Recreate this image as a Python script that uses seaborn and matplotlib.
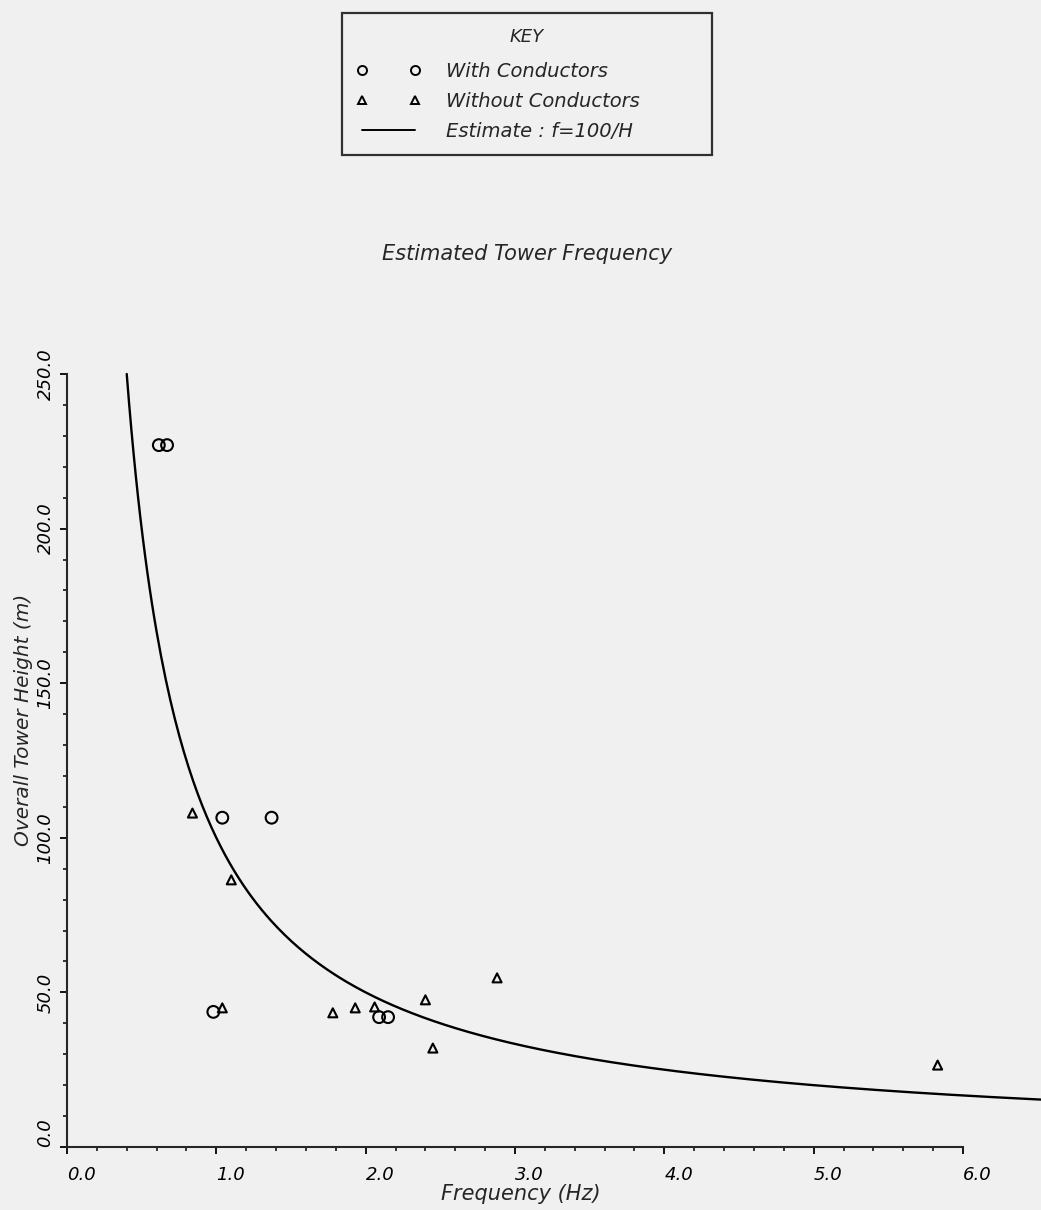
import numpy as np
import pandas as pd
import matplotlib
matplotlib.use("Agg")
import matplotlib.pyplot as plt
import seaborn as sns
from matplotlib.lines import Line2D
from matplotlib.ticker import FixedLocator

# ---- data ----
with_freq = [0.615, 0.67, 1.04, 1.37, 0.98, 2.09, 2.15]
with_height = [227, 227, 106.5, 106.5, 43.7, 42, 42]
without_freq = [0.84, 1.10, 1.04, 1.78, 1.93, 2.06, 2.40, 2.45, 2.88, 5.83]
without_height = [108, 86.4, 45, 43.4, 45, 45.3, 47.6, 32, 54.7, 26.5]
estimate_freq = np.linspace(0.40, 6.52, 400)
estimate_height = 100.0 / estimate_freq          # Estimate : f = 100/H

x_ticks = [0, 1, 2, 3, 4, 5, 6]
x_tick_labels = ["0.0", "1.0", "2.0", "3.0", "4.0", "5.0", "6.0"]
y_ticks = [0, 50, 100, 150, 200, 250]
y_tick_labels = ["0.0", "50.0", "100.0", "150.0", "200.0", "250.0"]

sns.set_style("ticks")
plt.rcParams["font.family"] = ["DejaVu Sans"]

W, H = 1041, 1210
fig = plt.figure(figsize=(W / 100, H / 100), dpi=100)
paper = "#f0f0f0"
fig.patch.set_facecolor(paper)

x0, x6, y0, y250 = 67, 963, 1147, 374
ax = fig.add_axes([x0 / W, (H - y0) / H, (W - x0) / W, (y0 - y250) / H])
ax.set_facecolor("none")
ax.set_xlim(0, 6 * (W - x0) / (x6 - x0))
ax.set_ylim(0, 250)

df_with = pd.DataFrame({"f": with_freq, "h": with_height})
df_without = pd.DataFrame({"f": without_freq, "h": without_height})
df_est = pd.DataFrame({"f": estimate_freq, "h": estimate_height})

sns.lineplot(data=df_est, x="f", y="h", ax=ax, color="black", lw=1.7,
             sort=False, estimator=None, clip_on=False)
sns.scatterplot(data=df_with, x="f", y="h", ax=ax, marker="o", s=72,
                facecolor="none", edgecolor="black", linewidth=1.5, clip_on=False)
sns.scatterplot(data=df_without, x="f", y="h", ax=ax, marker="^", s=42,
                facecolor="none", edgecolor="black", linewidth=1.5, clip_on=False)

sns.despine(ax=ax)
ax.spines["bottom"].set_bounds(0, 6)
ax.spines["left"].set_bounds(0, 250)
for s in ("bottom", "left"):
    ax.spines[s].set_linewidth(1.5)

ax.xaxis.set_major_locator(FixedLocator(x_ticks))
ax.set_xticklabels(x_tick_labels, ha="left", fontstyle="italic", fontsize=13)
ax.xaxis.set_minor_locator(FixedLocator(np.arange(0, 6.01, 0.2)))
ax.yaxis.set_major_locator(FixedLocator(y_ticks))
ax.set_yticklabels(y_tick_labels, rotation=90, va="center", fontstyle="italic", fontsize=13)
ax.get_yticklabels()[0].set_va("bottom")
ax.yaxis.set_minor_locator(FixedLocator(np.arange(0, 250.1, 10)))
ax.tick_params(which="major", direction="out", length=5, width=1.3, colors="black")
ax.tick_params(which="minor", direction="out", length=3, width=1.1, colors="black")
ax.tick_params(axis="y", pad=4)
ax.tick_params(axis="x", pad=9)

ax.set_xlabel("")
ax.set_ylabel("")
fig.text(521 / W, 1 - 1194 / H, "Frequency (Hz)", ha="center", va="center",
         fontstyle="italic", fontsize=15)
fig.text(24 / W, 1 - 720 / H, "Overall Tower Height (m)", ha="center", va="center",
         rotation=90, fontstyle="italic", fontsize=14.5)
fig.text(527 / W, 1 - 254 / H, "Estimated Tower Frequency", ha="center", va="center",
         fontstyle="italic", fontsize=15)

handles = [
    Line2D([], [], ls="none", marker="o", mfc="none", mec="black", ms=6.5, mew=1.4),
    Line2D([], [], ls="none", marker="^", mfc="none", mec="black", ms=5.5, mew=1.4),
    Line2D([], [], color="black", lw=1.4),
]
labels = ["With Conductors", "Without Conductors", "Estimate : f=100/H"]
leg = fig.legend(handles, labels, title="KEY", loc="upper left",
                 bbox_to_anchor=(342 / W, (H - 153) / H, 370 / W, 140 / H),
                 mode="expand", borderaxespad=0, numpoints=2,
                 handlelength=3.3, handletextpad=1.3, borderpad=0.75,
                 labelspacing=0.55, fancybox=False, frameon=True,
                 prop={"style": "italic", "size": 14},
                 title_fontproperties={"style": "italic", "size": 13})
leg._legend_box.sep = 12  # a little more room under the "KEY" title
leg.get_frame().set_edgecolor("black")
leg.get_frame().set_linewidth(1.6)
leg.get_frame().set_facecolor("none")

fig.savefig("out.png", dpi=100, facecolor=fig.get_facecolor())
